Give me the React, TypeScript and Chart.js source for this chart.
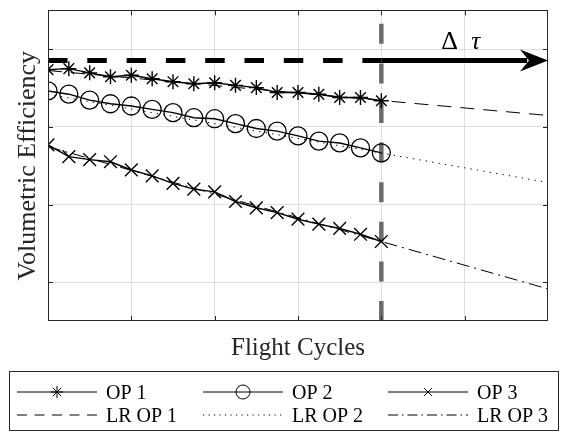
import React, { useEffect, useRef } from "react";
import { Chart, registerables } from "chart.js";

Chart.register(...registerables);

// ---------- data ----------
const cycles = [0, 1, 2, 3, 4, 5, 6, 7, 8, 9, 10, 11, 12, 13, 14, 15, 16];
const op1 = [3.237, 3.25, 3.196, 3.145, 3.165, 3.12, 3.082, 3.056, 3.069, 3.035, 3.006, 2.943, 2.943, 2.921, 2.879, 2.879, 2.836];
const op2 = [2.963, 2.921, 2.845, 2.798, 2.769, 2.725, 2.683, 2.618, 2.605, 2.542, 2.479, 2.445, 2.384, 2.317, 2.293, 2.229, 2.166];
const op3 = [2.267, 2.116, 2.078, 2.051, 1.945, 1.868, 1.773, 1.698, 1.663, 1.539, 1.458, 1.395, 1.311, 1.248, 1.192, 1.117, 1.024];
const lrX = [0, 24];
const lrOp1 = [3.226, 2.647];
const lrOp2 = [2.92, 1.783];
const lrOp3 = [2.245, 0.413];
const thresholdValue = 3.355;
const presentCycle = 16;
const horizonCycle = 24;
const arrowShaftEnd = 23;
const xMin = 0;
const xMax = 24;
const yMin = 0;
const yMax = 4;
const xTicks = [4, 8, 12, 16, 20];
const yTicks = [0.5, 1.5, 2.5, 3.5];
const xTitle = "Flight Cycles";
const yTitle = "Volumetric Efficiency";
const legendLabels = ["OP 1", "OP 2", "OP 3", "LR OP 1", "LR OP 2", "LR OP 3"];
const deltaLabel = "Δ";
const tauLabel = "τ";

const SERIF = '"Liberation Serif", "Times New Roman", serif';
const AX = "#262626";

const pts = (xs: number[], ys: number[]) => xs.map((x, i) => ({ x, y: ys[i] }));

function drawMarker(ctx: CanvasRenderingContext2D, kind: string, cx: number, cy: number, r: number) {
  ctx.beginPath();
  if (kind === "star") {
    ctx.moveTo(cx - r, cy); ctx.lineTo(cx + r, cy);
    ctx.moveTo(cx, cy - r); ctx.lineTo(cx, cy + r);
    const d = r * Math.SQRT1_2;
    ctx.moveTo(cx - d, cy - d); ctx.lineTo(cx + d, cy + d);
    ctx.moveTo(cx - d, cy + d); ctx.lineTo(cx + d, cy - d);
  } else if (kind === "circle") {
    ctx.arc(cx, cy, r, 0, Math.PI * 2);
  } else {
    const d = r * Math.SQRT1_2;
    ctx.moveTo(cx - d, cy - d); ctx.lineTo(cx + d, cy + d);
    ctx.moveTo(cx - d, cy + d); ctx.lineTo(cx + d, cy - d);
  }
  ctx.stroke();
}

const framePlugin = {
  id: "frame",
  afterDraw(chart: any) {
    const { ctx, chartArea } = chart;
    const { left, right, top, bottom } = chartArea;
    const xs = chart.scales.x;
    const ys = chart.scales.y;
    ctx.save();

    // axes box
    ctx.strokeStyle = AX;
    ctx.lineWidth = 1;
    ctx.setLineDash([]);
    ctx.strokeRect(Math.round(left) + 0.5, Math.round(top) + 0.5, Math.round(right - left) - 1, Math.round(bottom - top) - 1);

    // inward ticks
    const L = 5;
    ctx.beginPath();
    xTicks.forEach((v) => {
      const px = Math.round(xs.getPixelForValue(v)) + 0.5;
      ctx.moveTo(px, bottom); ctx.lineTo(px, bottom - L);
      ctx.moveTo(px, top); ctx.lineTo(px, top + L);
    });
    yTicks.forEach((v) => {
      const py = Math.round(ys.getPixelForValue(v)) + 0.5;
      ctx.moveTo(left, py); ctx.lineTo(left + L, py);
      ctx.moveTo(right, py); ctx.lineTo(right - L, py);
    });
    ctx.stroke();

    // arrowhead
    const tx = xs.getPixelForValue(horizonCycle);
    const ty = ys.getPixelForValue(thresholdValue);
    ctx.fillStyle = "#000";
    ctx.beginPath();
    ctx.moveTo(tx, ty);
    ctx.lineTo(tx - 28, ty - 11);
    ctx.lineTo(tx - 19, ty);
    ctx.lineTo(tx - 28, ty + 11);
    ctx.closePath();
    ctx.fill();

    // delta tau label
    const lx = xs.getPixelForValue(presentCycle) + 60;
    const ly = ty - 11;
    ctx.fillStyle = "#000";
    ctx.textBaseline = "alphabetic";
    ctx.textAlign = "left";
    ctx.font = `26px ${SERIF}`;
    ctx.fillText(deltaLabel, lx, ly);
    ctx.font = `italic 25px ${SERIF}`;
    ctx.fillText(tauLabel, lx + 30, ly);

    // legend
    const bx = 9.5, by = 371.5, bw = 549, bh = 59;
    ctx.fillStyle = "#fff";
    ctx.fillRect(bx, by, bw, bh);
    ctx.strokeStyle = AX;
    ctx.lineWidth = 1;
    ctx.strokeRect(bx, by, bw, bh);
    const cols = [17, 203, 388];
    const rows = [392, 415];
    const markers = ["star", "circle", "cross"];
    const mr = [6, 7, 5.5];
    const dashes = [[10, 7.5], [1.2, 4.3], [10, 4, 1.5, 4]];
    ctx.font = `20px ${SERIF}`;
    for (let i = 0; i < 3; i++) {
      const x0 = cols[i];
      ctx.strokeStyle = "#000";
      ctx.lineWidth = 1;
      ctx.setLineDash([]);
      ctx.beginPath();
      ctx.moveTo(x0, rows[0]); ctx.lineTo(x0 + 80, rows[0]);
      ctx.stroke();
      drawMarker(ctx, markers[i], x0 + 40, rows[0], mr[i]);
      ctx.fillStyle = "#000";
      ctx.fillText(legendLabels[i], x0 + 89, rows[0] + 6.5);
      ctx.setLineDash(dashes[i]);
      ctx.beginPath();
      ctx.moveTo(x0, rows[1]); ctx.lineTo(x0 + 80, rows[1]);
      ctx.stroke();
      ctx.setLineDash([]);
      ctx.fillText(legendLabels[i + 3], x0 + 89, rows[1] + 6.5);
    }
    ctx.restore();
  },
};

export default function App() {
  const ref = useRef<HTMLCanvasElement | null>(null);

  useEffect(() => {
    if (!ref.current) return;
    const common = { fill: false, tension: 0, borderColor: "#000", pointBorderColor: "#000", pointBackgroundColor: "rgba(0,0,0,0)" };
    const chart = new Chart(ref.current, {
      type: "line",
      data: {
        datasets: [
          { ...common, label: legendLabels[0], data: pts(cycles, op1), borderWidth: 1.4, pointStyle: "star", pointRadius: 7.5, pointBorderWidth: 1.4, order: 1 },
          { ...common, label: legendLabels[1], data: pts(cycles, op2), borderWidth: 1.4, pointStyle: "circle", pointRadius: 9, pointBorderWidth: 1.3, order: 1 },
          { ...common, label: legendLabels[2], data: pts(cycles, op3), borderWidth: 1.4, pointStyle: "crossRot", pointRadius: 9, pointBorderWidth: 1.4, order: 1 },
          { ...common, label: legendLabels[3], data: pts(lrX, lrOp1), borderWidth: 1, borderDash: [14, 9], pointRadius: 0, order: 5 },
          { ...common, label: legendLabels[4], data: pts(lrX, lrOp2), borderWidth: 1, borderDash: [1.3, 5.2], pointRadius: 0, order: 5 },
          { ...common, label: legendLabels[5], data: pts(lrX, lrOp3), borderWidth: 1, borderDash: [13, 5, 2, 5], pointRadius: 0, order: 5 },
          { ...common, label: "threshold", data: [{ x: xMin, y: thresholdValue }, { x: presentCycle, y: thresholdValue }], borderWidth: 5, borderDash: [19.5, 19.8], borderCapStyle: "butt", pointRadius: 0, order: 0 },
          { ...common, label: "horizon", data: [{ x: presentCycle, y: thresholdValue }, { x: arrowShaftEnd, y: thresholdValue }], borderWidth: 5, pointRadius: 0, order: 0 },
          { ...common, label: "present", borderColor: "#6b6b6b", data: [{ x: presentCycle, y: yMin }, { x: presentCycle, y: yMax }], borderWidth: 4.5, borderDash: [20, 19.6], borderCapStyle: "butt", pointRadius: 0, order: 10 },
        ],
      },
      options: {
        animation: false,
        responsive: false,
        devicePixelRatio: 1,
        events: [],
        layout: { padding: { top: 5, right: 15, left: 0, bottom: 0 } },
        plugins: { legend: { display: false }, tooltip: { enabled: false } },
        scales: {
          x: {
            type: "linear",
            min: xMin,
            max: xMax,
            afterBuildTicks: (s: any) => { s.ticks = xTicks.map((value) => ({ value })); },
            afterFit: (s: any) => { s.height = 113; },
            ticks: { display: false },
            grid: { color: "#dedede", lineWidth: 1, drawTicks: false },
            border: { display: false },
            title: { display: true, text: xTitle, color: AX, font: { family: SERIF, size: 25 }, padding: { top: 0, bottom: 71 } },
          },
          y: {
            type: "linear",
            min: yMin,
            max: yMax,
            afterBuildTicks: (s: any) => { s.ticks = yTicks.map((value) => ({ value })); },
            afterFit: (s: any) => { s.width = 48; },
            ticks: { display: false },
            grid: { color: "#dedede", lineWidth: 1, drawTicks: false },
            border: { display: false },
            title: { display: true, text: yTitle, color: AX, font: { family: SERIF, size: 26 }, padding: { top: 13, bottom: 0 } },
          },
        },
      },
      plugins: [framePlugin],
    } as any);
    return () => chart.destroy();
  }, []);

  return (
    <div style={{ position: "fixed", left: 0, top: 0, width: 563, height: 434, background: "#fff" }}>
      <canvas ref={ref} width={563} height={434} style={{ display: "block", width: 563, height: 434 }} />
    </div>
  );
}
